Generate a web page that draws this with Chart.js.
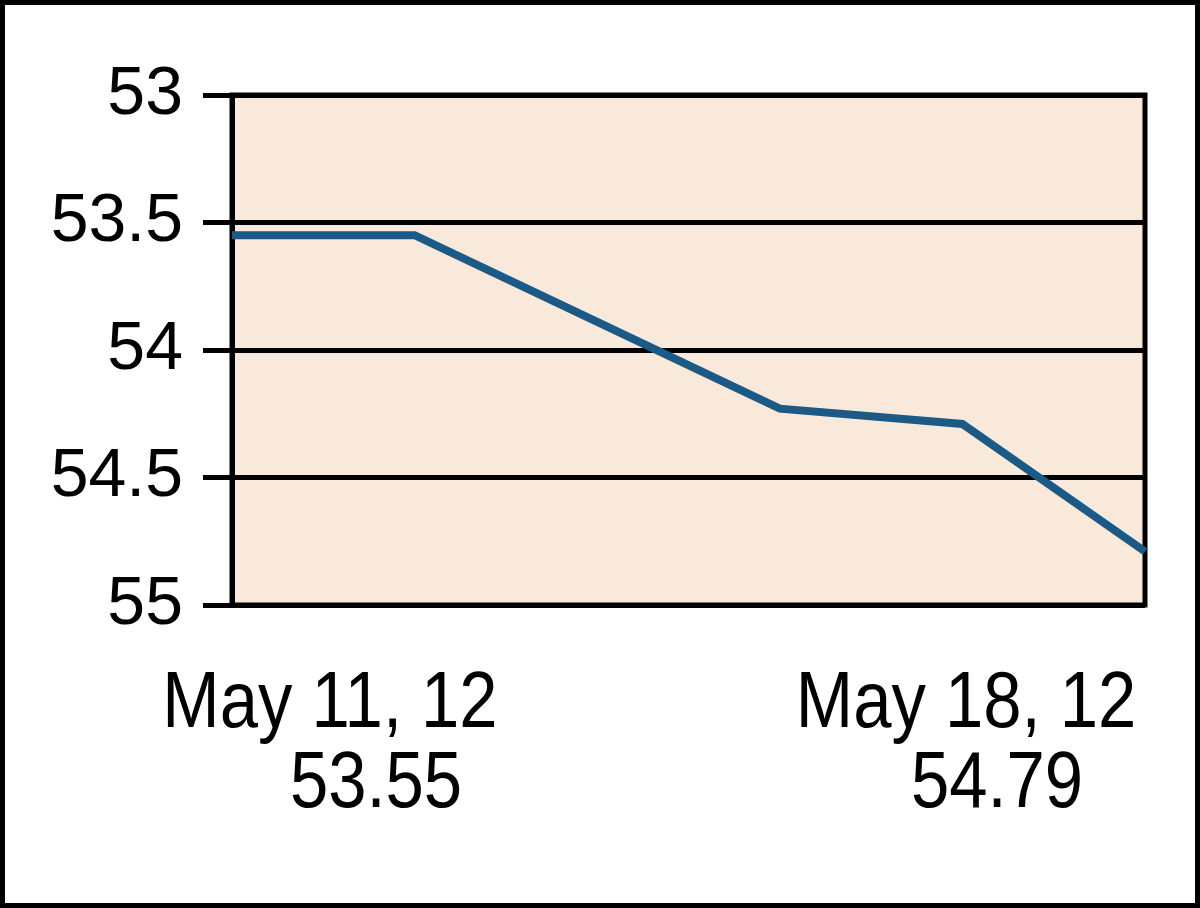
<!DOCTYPE html>
<html>
<head>
<meta charset="utf-8">
<script src="https://cdn.jsdelivr.net/npm/chart.js@4.4.1/dist/chart.umd.min.js"></script>
<style>
  html, body { margin: 0; padding: 0; background: #fff; }
  #wrap { position: relative; width: 1200px; height: 908px; }
  #frame {
    position: absolute; left: 0; top: 0; width: 1200px; height: 908px;
    box-sizing: border-box; border: 5px solid #000; pointer-events: none;
  }
  canvas { position: absolute; left: 0; top: 0; }
</style>
</head>
<body>
<div id="wrap">
  <canvas id="priceChart" width="1200" height="908"></canvas>
  <div id="frame"></div>
</div>
<script>
// trading days of the week, with closing values
const days = ['May 11', 'May 14', 'May 15', 'May 16', 'May 17', 'May 18'];
const prices = [53.55, 53.55, 53.89, 54.23, 54.29, 54.79];
const endDates = ['May 11, 12', 'May 18, 12'];
const yTicks = [53, 53.5, 54, 54.5, 55];

const plotFill = '#f9e9da';
const lineColor = '#1b5a86';

// peach plot area and the black frame around it
const plotBox = {
  id: 'plotBox',
  beforeDraw(chart) {
    const a = chart.chartArea;
    const ctx = chart.ctx;
    ctx.save();
    ctx.fillStyle = plotFill;
    ctx.fillRect(a.left, a.top, a.right - a.left, a.bottom - a.top);
    ctx.restore();
  },
  beforeDatasetsDraw(chart) {
    const a = chart.chartArea;
    const ctx = chart.ctx;
    ctx.save();
    ctx.strokeStyle = '#000';
    ctx.lineWidth = 5;
    ctx.strokeRect(a.left, a.top, a.right - a.left, a.bottom - a.top);
    ctx.restore();
  }
};

// date + value captions under the first and last point
const endCaptions = {
  id: 'endCaptions',
  afterDraw(chart) {
    const a = chart.chartArea;
    const ctx = chart.ctx;
    const first = prices[0].toFixed(2);
    const last = prices[prices.length - 1].toFixed(2);
    const items = [
      { x: a.left + 98, vx: a.left + 144, date: endDates[0], val: first },
      { x: a.right - 179, vx: a.right - 148, date: endDates[1], val: last }
    ];
    ctx.save();
    ctx.fillStyle = '#000';
    ctx.font = '80px "Liberation Sans", Arial, sans-serif';
    ctx.textAlign = 'center';
    ctx.textBaseline = 'alphabetic';
    items.forEach(it => {
      ctx.save();
      ctx.translate(it.x, a.bottom + 122);
      ctx.scale(0.86, 1);
      ctx.fillText(it.date, 0, 0);
      ctx.restore();
      ctx.save();
      ctx.translate(it.vx, a.bottom + 202);
      ctx.scale(0.86, 1);
      ctx.fillText(it.val, 0, 0);
      ctx.restore();
    });
    ctx.restore();
  }
};

new Chart(document.getElementById('priceChart'), {
  type: 'line',
  data: {
    labels: days,
    datasets: [{
      data: prices,
      borderColor: lineColor,
      borderWidth: 8,
      pointRadius: 0,
      tension: 0,
      fill: false
    }]
  },
  options: {
    responsive: false,
    animation: false,
    layout: { padding: { left: 0, top: 95, right: 55, bottom: 303 } },
    plugins: { legend: { display: false }, tooltip: { enabled: false } },
    scales: {
      x: { display: false, offset: false },
      y: {
        reverse: true,
        min: 53,
        max: 55,
        afterFit(scale) { scale.width = 232; },
        afterBuildTicks(scale) { scale.ticks = yTicks.map(v => ({ value: v })); },
        grid: { color: '#000', lineWidth: 5, tickLength: 29, drawTicks: true },
        border: { display: true, color: '#000', width: 5 },
        ticks: {
          padding: 20,
          color: '#000',
          font: { family: '"Liberation Sans", Arial, sans-serif', size: 68 },
          callback: v => String(v)
        }
      }
    }
  },
  plugins: [plotBox, endCaptions]
});
</script>
</body>
</html>
